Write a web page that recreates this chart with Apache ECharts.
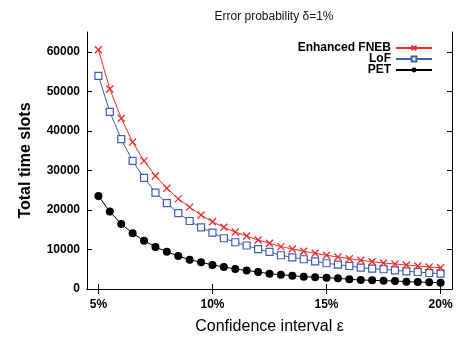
<!DOCTYPE html>
<html><head><meta charset="utf-8">
<script src="https://cdn.jsdelivr.net/npm/echarts@6/dist/echarts.min.js"></script>
<style>html,body{margin:0;padding:0;background:#fff}#c{width:463px;height:342px}</style>
</head><body><div id="c"></div>
<script>
const epsilon = [5, 5.5, 6, 6.5, 7, 7.5, 8, 8.5, 9, 9.5, 10, 10.5, 11, 11.5, 12, 12.5, 13, 13.5, 14, 14.5, 15, 15.5, 16, 16.5, 17, 17.5, 18, 18.5, 19, 19.5, 20];
const enhancedFNEB = [60500, 50600, 43200, 37150, 32400, 28600, 25500, 22800, 20700, 18700, 17000, 15600, 14400, 13400, 12400, 11570, 10710, 10130, 9540, 9040, 8530, 8100, 7670, 7270, 6910, 6580, 6330, 6080, 5820, 5570, 5390];
const lof = [53900, 44800, 37900, 32400, 28100, 24400, 21700, 19200, 17200, 15600, 14260, 12830, 11820, 11000, 10080, 9370, 8530, 8020, 7520, 7010, 6510, 6150, 5820, 5390, 5140, 4990, 4730, 4480, 4300, 4050, 3870];
const pet = [23540, 19570, 16460, 14100, 12230, 10630, 9440, 8350, 7420, 6760, 6080, 5570, 5060, 4680, 4300, 3870, 3620, 3370, 3110, 3000, 2860, 2710, 2460, 2280, 2200, 2100, 2030, 1850, 1770, 1700, 1600];
const xTicks = [5, 10, 15, 20];
const yTicks = [0, 10000, 20000, 30000, 40000, 50000, 60000];
const seriesNames = ['Enhanced FNEB', 'LoF', 'PET'];

const FONT = "'Liberation Sans', Arial, sans-serif";
const pairs = vals => epsilon.map((e, i) => [e, vals[i]]);
const red = '#ee2a2a', blue = '#3d5fb3', black = '#000000';

const chart = echarts.init(document.getElementById('c'), null, {renderer: 'canvas'});
const axisLine = {show: true, lineStyle: {color: '#000', width: 1}};
chart.setOption({
  animation: false,
  backgroundColor: '#fff',
  title: {
    text: 'Error probability δ=1%', left: 269, top: 6, textAlign: 'center',
    textStyle: {fontFamily: FONT, fontSize: 12, fontWeight: 'normal', color: '#111'}
  },
  grid: {left: 87, right: 11, top: 32, bottom: 53, containLabel: false},
  legend: {
    orient: 'vertical', right: 25, top: 37, align: 'right',
    itemWidth: 36, itemHeight: 6, itemGap: -1,
    textStyle: {fontFamily: FONT, fontSize: 12, fontWeight: 'bold', color: '#000', lineHeight: 11},
    data: seriesNames
  },
  xAxis: [{
    type: 'value', min: 4.5, max: 20.5, position: 'bottom',
    name: 'Confidence interval ε', nameLocation: 'middle', nameGap: 30,
    nameTextStyle: {fontFamily: FONT, fontSize: 16, color: '#000'},
    axisLine: axisLine, splitLine: {show: false},
    axisTick: {inside: true, length: 5, customValues: xTicks, lineStyle: {color: '#000'}},
    axisLabel: {customValues: xTicks, formatter: v => v + '%', margin: 10,
      fontFamily: FONT, fontSize: 12, fontWeight: 'bold', color: '#000'}
  }, {
    type: 'value', min: 4.5, max: 20.5, position: 'top',
    axisLine: axisLine, splitLine: {show: false},
    axisTick: {inside: true, length: 5, customValues: xTicks, lineStyle: {color: '#000'}},
    axisLabel: {show: false}
  }],
  yAxis: [{
    type: 'value', min: 0, max: 65000, position: 'left',
    name: 'Total time slots', nameLocation: 'middle', nameGap: 53,
    nameTextStyle: {fontFamily: FONT, fontSize: 16, fontWeight: 'bold', color: '#000'},
    axisLine: axisLine, splitLine: {show: false},
    axisTick: {inside: true, length: 5, customValues: yTicks, lineStyle: {color: '#000'}},
    axisLabel: {customValues: yTicks, margin: 7, formatter: v => String(v),
      fontFamily: FONT, fontSize: 12, fontWeight: 'bold', color: '#000'}
  }, {
    type: 'value', min: 0, max: 65000, position: 'right',
    axisLine: axisLine, splitLine: {show: false},
    axisTick: {inside: true, length: 5, customValues: yTicks, lineStyle: {color: '#000'}},
    axisLabel: {show: false}
  }],
  series: [{
    name: seriesNames[0], type: 'line', xAxisIndex: 0, yAxisIndex: 0,
    data: pairs(enhancedFNEB),
    symbol: 'path://M0,0L10,10M10,0L0,10', symbolSize: 7,
    lineStyle: {color: red, width: 1},
    itemStyle: {color: red, borderColor: red, borderWidth: 1.3},
    z: 3
  }, {
    name: seriesNames[1], type: 'line', xAxisIndex: 0, yAxisIndex: 0,
    data: pairs(lof),
    symbol: 'rect', symbolSize: 7,
    lineStyle: {color: blue, width: 1},
    itemStyle: {color: '#fff', borderColor: blue, borderWidth: 1.2},
    z: 2
  }, {
    name: seriesNames[2], type: 'line', xAxisIndex: 0, yAxisIndex: 0,
    data: pairs(pet),
    symbol: 'circle', symbolSize: 8,
    lineStyle: {color: black, width: 1},
    itemStyle: {color: black, borderWidth: 0},
    z: 1
  }]
});
</script>
</body></html>
